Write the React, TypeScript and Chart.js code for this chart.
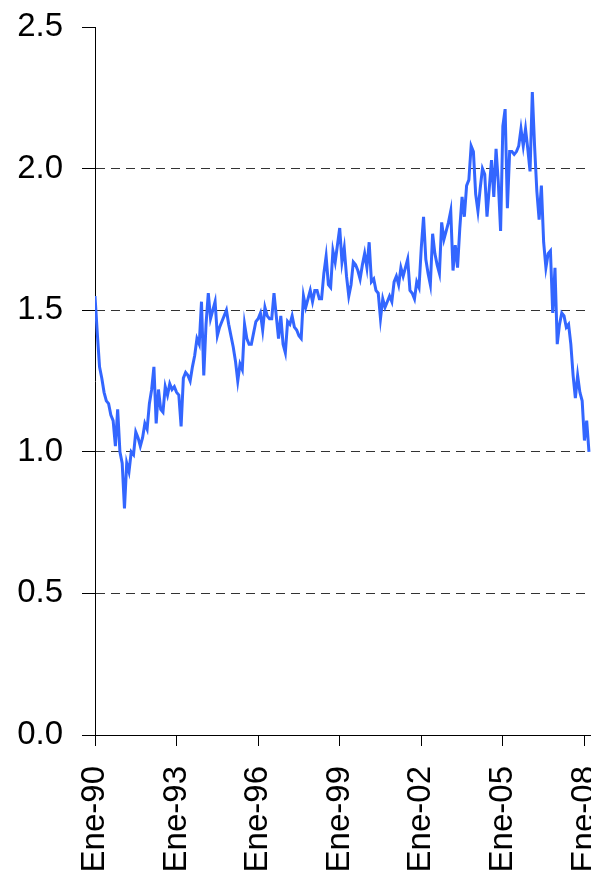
import React, { useEffect, useRef } from "react";
import { Chart, registerables } from "chart.js";

Chart.register(...registerables);

// Monthly values, Ene-1990 .. Mar-2008
const values: number[] = [
  1.55, 1.42, 1.30, 1.26, 1.21, 1.18, 1.17, 1.13, 1.11, 1.02,
  1.15, 1.00, 0.96, 0.80, 0.96, 0.93, 1.00, 0.99, 1.07, 1.05,
  1.02, 1.05, 1.10, 1.08, 1.17, 1.22, 1.30, 1.10, 1.22, 1.15,
  1.14, 1.23, 1.20, 1.24, 1.22, 1.23, 1.21, 1.20, 1.09, 1.26,
  1.28, 1.27, 1.25, 1.30, 1.34, 1.40, 1.38, 1.53, 1.27, 1.45,
  1.56, 1.47, 1.50, 1.53, 1.41, 1.44, 1.46, 1.48, 1.50, 1.45,
  1.41, 1.37, 1.32, 1.25, 1.31, 1.29, 1.45, 1.40, 1.38, 1.38,
  1.42, 1.46, 1.47, 1.49, 1.43, 1.51, 1.48, 1.47, 1.47, 1.56,
  1.48, 1.40, 1.48, 1.38, 1.35, 1.46, 1.45, 1.48, 1.44, 1.43,
  1.41, 1.40, 1.55, 1.51, 1.54, 1.57, 1.53, 1.57, 1.57, 1.54,
  1.54, 1.63, 1.69, 1.59, 1.58, 1.71, 1.67, 1.73, 1.79, 1.67,
  1.72, 1.62, 1.55, 1.59, 1.67, 1.66, 1.64, 1.61, 1.66, 1.70,
  1.65, 1.74, 1.60, 1.61, 1.57, 1.56, 1.47, 1.54, 1.51, 1.53,
  1.55, 1.53, 1.60, 1.62, 1.59, 1.65, 1.62, 1.65, 1.68, 1.57,
  1.56, 1.54, 1.60, 1.58, 1.72, 1.83, 1.68, 1.63, 1.59, 1.77,
  1.70, 1.66, 1.63, 1.81, 1.75, 1.78, 1.81, 1.85, 1.64, 1.73,
  1.65, 1.79, 1.90, 1.83, 1.94, 1.96, 2.08, 2.06, 1.91, 1.85,
  1.93, 2.00, 1.98, 1.83, 1.93, 2.03, 1.90, 2.07, 1.95, 1.78,
  2.15, 2.21, 1.86, 2.06, 2.06, 2.05, 2.06, 2.08, 2.14, 2.08,
  2.14, 2.07, 1.99, 2.27, 2.08, 1.92, 1.82, 1.94, 1.74, 1.65,
  1.70, 1.71, 1.49, 1.65, 1.38, 1.45, 1.49, 1.48, 1.44, 1.45,
  1.38, 1.27, 1.19, 1.27, 1.21, 1.18, 1.04, 1.11, 1.00,
];

const xTickLabels: string[] = ["Ene-90", "Ene-93", "Ene-96", "Ene-99", "Ene-02", "Ene-05", "Ene-08"];
const monthsPerTick = 36;
const yTicks: number[] = [0, 0.5, 1.0, 1.5, 2.0, 2.5];

const FONT = "'Liberation Sans', Arial, sans-serif";

export default function App() {
  const ref = useRef<HTMLCanvasElement>(null);

  useEffect(() => {
    if (!ref.current) return;
    const chart = new Chart(ref.current, {
      type: "line",
      data: {
        datasets: [
          {
            data: values.map((v, i) => ({ x: i, y: v })),
            borderColor: "#3366ff",
            borderWidth: 3,
            pointRadius: 0,
            tension: 0,
            fill: false,
          },
        ],
      },
      options: {
        animation: false,
        responsive: false,
        layout: { padding: { top: 27, left: 0, right: 0, bottom: 0 } },
        plugins: { legend: { display: false }, tooltip: { enabled: false } },
        scales: {
          x: {
            type: "linear",
            min: 0,
            max: 252,
            afterBuildTicks: (s: any) => {
              s.ticks = xTickLabels.map((_, i) => ({ value: i * monthsPerTick }));
            },
            afterFit: (s: any) => {
              s.height = 143;
            },
            ticks: {
              callback: (v: any) => xTickLabels[Math.round(Number(v) / monthsPerTick)] ?? "",
              minRotation: 90,
              maxRotation: 90,
              autoSkip: false,
              font: { family: FONT, size: 33 },
              color: "#000",
              padding: 20,
            },
            grid: {
              drawOnChartArea: false,
              drawTicks: true,
              tickLength: 11,
              tickColor: "#000",
              tickWidth: 1,
            },
            border: { color: "#000", width: 1 },
          },
          y: {
            min: 0,
            max: 2.5,
            afterBuildTicks: (s: any) => {
              s.ticks = yTicks.map((v) => ({ value: v }));
            },
            afterFit: (s: any) => {
              s.width = 95;
            },
            ticks: {
              callback: (v: any) => Number(v).toFixed(1),
              font: { family: FONT, size: 33, lineHeight: 0.4 },
              color: "#000",
              padding: 19,
            },
            grid: {
              color: (ctx: any) =>
                ctx.tick && ctx.tick.value > 0 && ctx.tick.value < 2.5 ? "#333" : "rgba(0,0,0,0)",
              lineWidth: 1,
              tickLength: 13,
              tickColor: "#000",
              tickWidth: 1,
            },
            border: { color: "#000", width: 1, dash: [9, 6] },
          },
        },
      },
    });
    return () => chart.destroy();
  }, []);

  return (
    <div
      style={{
        position: "absolute",
        left: 0,
        top: 0,
        width: 591,
        height: 878,
        overflow: "hidden",
        background: "#fff",
      }}
    >
      <canvas ref={ref} width={666} height={878} style={{ display: "block", width: 666, height: 878 }} />
    </div>
  );
}
